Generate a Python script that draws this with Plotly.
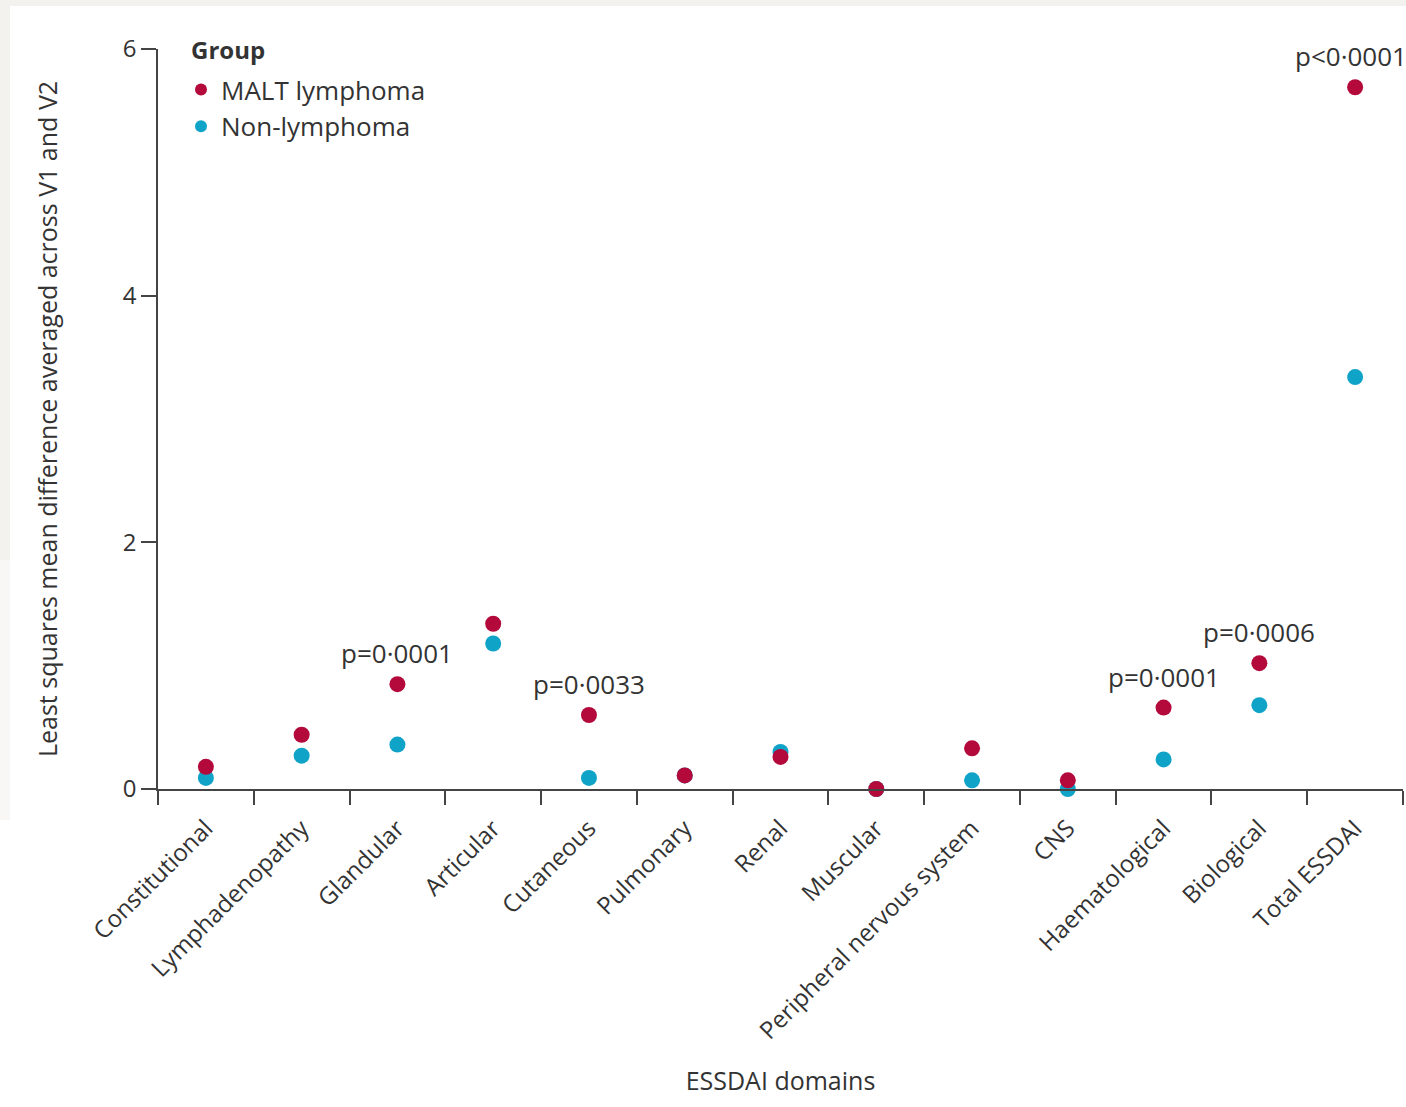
import plotly.graph_objects as go

# ESSDAI domains and least squares mean differences (averaged across V1 and V2)
domains = [
    "Constitutional", "Lymphadenopathy", "Glandular", "Articular", "Cutaneous",
    "Pulmonary", "Renal", "Muscular", "Peripheral nervous system", "CNS",
    "Haematological", "Biological", "Total ESSDAI",
]
malt_lymphoma = [0.18, 0.44, 0.85, 1.34, 0.60, 0.11, 0.26, 0.00, 0.33, 0.07, 0.66, 1.02, 5.69]
non_lymphoma = [0.09, 0.27, 0.36, 1.18, 0.09, 0.11, 0.30, 0.00, 0.07, 0.00, 0.24, 0.68, 3.34]

# p values shown above the MALT lymphoma points
p_domains = ["Glandular", "Cutaneous", "Haematological", "Biological", "Total ESSDAI"]
p_labels = ["p=0·0001", "p=0·0033", "p=0·0001", "p=0·0006", "p<0·0001"]

RED = "#b3093b"
BLUE = "#0fa3c8"
INK = "#333333"
FONT = "Open Sans"

W, H = 1406, 1107
L, R, T, B = 158, 3, 49, 318

fig = go.Figure()
fig.add_trace(go.Scatter(
    x=domains, y=non_lymphoma, mode="markers", name="Non-lymphoma",
    marker=dict(color=BLUE, size=16, line=dict(width=0)), cliponaxis=False,
))
fig.add_trace(go.Scatter(
    x=domains, y=malt_lymphoma, mode="markers", name="MALT lymphoma",
    marker=dict(color=RED, size=16, line=dict(width=0)), cliponaxis=False,
))

for d, lab in zip(p_domains, p_labels):
    yv = malt_lymphoma[domains.index(d)]
    fig.add_annotation(
        x=d, y=yv, text=lab, showarrow=False, yanchor="middle", yshift=31,
        xshift=-4 if d == "Total ESSDAI" else 0,
        font=dict(family=FONT, size=26, color=INK),
    )

pw = W - L - R
ph = H - T - B
def px_x(p):
    return (p - L) / pw
def px_y(p):
    return 1 + (T - p) / ph

# legend heading
fig.add_annotation(
    xref="paper", yref="paper", x=px_x(189), y=px_y(50), xanchor="left", yanchor="middle",
    text="<b>Group</b>", showarrow=False, font=dict(family=FONT, size=24, color=INK),
)

# light page-edge shading at top and left
shapes = [
    dict(type="rect", xref="paper", yref="paper", x0=px_x(0), x1=px_x(W), y0=px_y(6), y1=px_y(0),
         fillcolor="#f3f2ef", line=dict(width=0), layer="below"),
    dict(type="rect", xref="paper", yref="paper", x0=px_x(0), x1=px_x(10), y0=px_y(560), y1=px_y(0),
         fillcolor="#f3f2ef", line=dict(width=0), layer="below"),
    dict(type="rect", xref="paper", yref="paper", x0=px_x(0), x1=px_x(10), y0=px_y(820), y1=px_y(560),
         fillcolor="#f8f7f5", line=dict(width=0), layer="below"),
]

fig.update_layout(
    width=W, height=H,
    margin=dict(l=L, r=R, t=T, b=B),
    paper_bgcolor="white", plot_bgcolor="white",
    font=dict(family=FONT, color=INK),
    shapes=shapes,
    showlegend=True,
    legend=dict(
        x=px_x(181), y=px_y(66), xanchor="left", yanchor="top",
        font=dict(family=FONT, size=26, color=INK),
        traceorder="reversed", itemsizing="constant",
        bgcolor="rgba(0,0,0,0)", tracegroupgap=0,
    ),
    xaxis=dict(
        type="category", categoryorder="array", categoryarray=domains,
        range=[-0.5, 12.5], tickson="boundaries",
        ticks="outside", ticklen=14, tickwidth=1.5, tickcolor="#444444",
        showline=True, linecolor="#444444", linewidth=1.5,
        showgrid=False, zeroline=False, ticklabelstandoff=14,
        tickangle=-45, tickfont=dict(family=FONT, size=24, color=INK),
        title=dict(text="ESSDAI domains", font=dict(family=FONT, size=25, color=INK), standoff=28),
    ),
    yaxis=dict(
        range=[0, 6], tickvals=[0, 2, 4, 6], ticktext=["0", "2", "4", "6"],
        ticks="outside", ticklen=15, tickwidth=1.5, tickcolor="#444444",
        showline=True, linecolor="#444444", linewidth=1.5,
        showgrid=False, zeroline=False,
        tickfont=dict(family=FONT, size=24, color=INK),
        title=dict(text="Least squares mean difference averaged across V1 and V2",
                   font=dict(family=FONT, size=25, color=INK), standoff=58),
    ),
)

fig.write_html("out.html")
